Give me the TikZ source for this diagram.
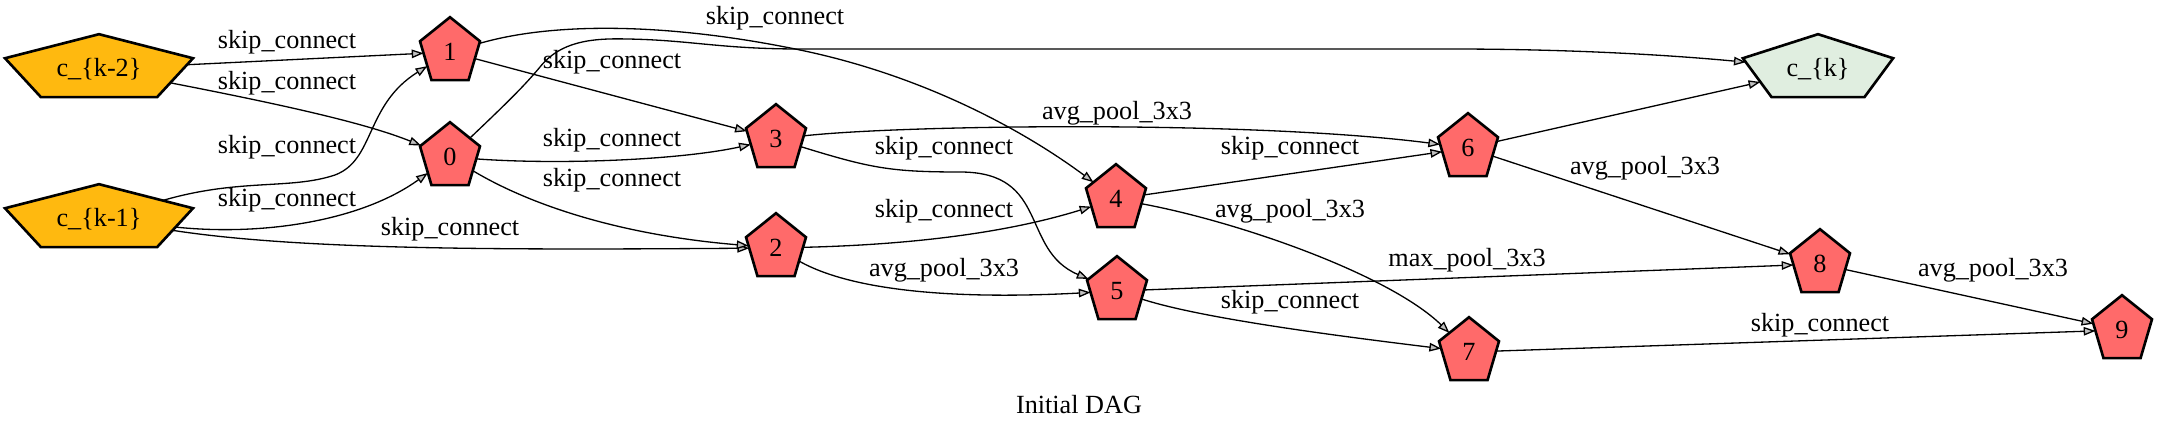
\documentclass[tikz,border=0pt]{standalone}
\usepackage{fontspec}
\setmainfont{Liberation Serif}
\usetikzlibrary{shapes.geometric,arrows.meta}
\definecolor{nodered}{HTML}{FF6A6A}
\definecolor{inputgold}{HTML}{FFB90F}
\definecolor{outgreen}{HTML}{E0EEE0}
\definecolor{tipgray}{HTML}{C0C0C0}
\tikzset{
  pent/.style={regular polygon, regular polygon sides=5, minimum size=53.1pt,
    inner sep=0pt, outer sep=0pt, draw=black, line width=2pt, transform shape},
  optext/.style={font=\fontsize{20}{24}\selectfont, inner sep=0pt},
  conn/.style={line width=1pt, -{Triangle[length=9pt,width=6.5pt,fill=tipgray]}},
}
\newcommand\pentnode[5]{%
  \begin{scope}[shift={(#2,#3)}, xscale=#4]
    \node[pent, fill=#5] (#1) at (0,0) {};
  \end{scope}}
\begin{document}
\begin{tikzpicture}[x=0.763pt,y=-0.763pt]
\fill[white] (0,0) rectangle (2158,432);
\useasboundingbox (0,0) rectangle (2158,432);

% pentagons
\pentnode{ck2}{99}{69}{2.84}{inputgold}
\pentnode{ck1}{99}{219}{2.84}{inputgold}
\pentnode{n1}{450}{52}{0.906}{nodered}
\pentnode{n0}{450}{157}{0.906}{nodered}
\pentnode{n3}{776}{139}{0.906}{nodered}
\pentnode{n2}{776}{248}{0.906}{nodered}
\pentnode{n4}{1116}{199}{0.906}{nodered}
\pentnode{n5}{1117}{291}{0.906}{nodered}
\pentnode{n6}{1468}{148}{0.906}{nodered}
\pentnode{n7}{1469}{352}{0.906}{nodered}
\pentnode{n8}{1820}{264}{0.906}{nodered}
\pentnode{n9}{2122}{330}{0.906}{nodered}
\pentnode{ck}{1818}{69}{2.27}{outgreen}

% node texts
\node[optext] (tck2) at (99,69) {c\_\{k-2\}};
\node[optext] (tck1) at (99,219) {c\_\{k-1\}};
\node[optext] (tck) at (1818,69) {c\_\{k\}};
\node[optext] (t1) at (450,52) {1};
\node[optext] (t0) at (450,157) {0};
\node[optext] (t3) at (776,139) {3};
\node[optext] (t2) at (776,248) {2};
\node[optext] (t4) at (1116,199) {4};
\node[optext] (t5) at (1117,291) {5};
\node[optext] (t6) at (1468,148) {6};
\node[optext] (t7) at (1469,352) {7};
\node[optext] (t8) at (1820,264) {8};
\node[optext] (t9) at (2122,330) {9};

% edges
\draw[conn] (ck2) -- (n1);
\draw[conn] (ck2) .. controls (300,108) and (370,125) .. (n0);
\draw[conn] (ck1) .. controls (240,178) and (290,190) .. (335,175) .. controls (375,160) and (365,105) .. (n1);
\draw[conn] (ck1) .. controls (260,236) and (360,222) .. (n0);
\draw[conn] (ck1) .. controls (300,250) and (500,250) .. (n2);
\draw[conn] (n0) .. controls (560,165) and (680,160) .. (n3);
\draw[conn] (n0) .. controls (530,205) and (620,235) .. (n2);
\draw[conn] (n0) .. controls (510,100) and (525,85) .. (540,67) .. controls (560,42) and (590,38) .. (627,39) .. controls (690,40) and (720,49) .. (800,49) -- (1450,49) .. controls (1580,49) and (1680,56) .. (ck);
\draw[conn] (n1) .. controls (560,20) and (680,25) .. (800,50) .. controls (930,77) and (1030,135) .. (n4);
\draw[conn] (n1) -- (n3);
\draw[conn] (n3) .. controls (900,125) and (1250,120) .. (n6);
\draw[conn] (n3) .. controls (870,168) and (890,172) .. (960,172) .. controls (1050,172) and (1020,250) .. (n5);
\draw[conn] (n2) .. controls (900,245) and (1000,235) .. (n4);
\draw[conn] (n2) .. controls (850,290) and (950,300) .. (n5);
\draw[conn] (n4) -- (n6);
\draw[conn] (n4) .. controls (1240,222) and (1390,275) .. (n7);
\draw[conn] (n5) -- (n8);
\draw[conn] (n5) .. controls (1200,318) and (1330,335) .. (n7);
\draw[conn] (n6) -- (ck);
\draw[conn] (n6) -- (n8);
\draw[conn] (n8) -- (n9);
\draw[conn] (n7) -- (n9);

% edge labels
\node[optext] (la) at (287,42) {skip\_connect};
\node[optext] (lb) at (287,83) {skip\_connect};
\node[optext] (lc) at (287,147) {skip\_connect};
\node[optext] (ld) at (287,200) {skip\_connect};
\node[optext] (le) at (450,229) {skip\_connect};
\node[optext] (lf) at (612,62) {skip\_connect};
\node[optext] (lg) at (612,140) {skip\_connect};
\node[optext] (lh) at (612,180) {skip\_connect};
\node[optext] (li) at (775,18) {skip\_connect};
\node[optext] (lj) at (1117,113) {avg\_pool\_3x3};
\node[optext] (lk) at (944,148) {skip\_connect};
\node[optext] (ll) at (1290,148) {skip\_connect};
\node[optext] (lm) at (944,211) {skip\_connect};
\node[optext] (ln) at (1290,211) {avg\_pool\_3x3};
\node[optext] (lo) at (944,270) {avg\_pool\_3x3};
\node[optext] (lp) at (1467,260) {max\_pool\_3x3};
\node[optext] (lq) at (1645,168) {avg\_pool\_3x3};
\node[optext] (lr) at (1290,302) {skip\_connect};
\node[optext] (ls) at (1820,325) {skip\_connect};
\node[optext] (lt) at (1993,270) {avg\_pool\_3x3};

\node[optext] (title) at (1079,405) {Initial DAG};
\end{tikzpicture}
\end{document}
